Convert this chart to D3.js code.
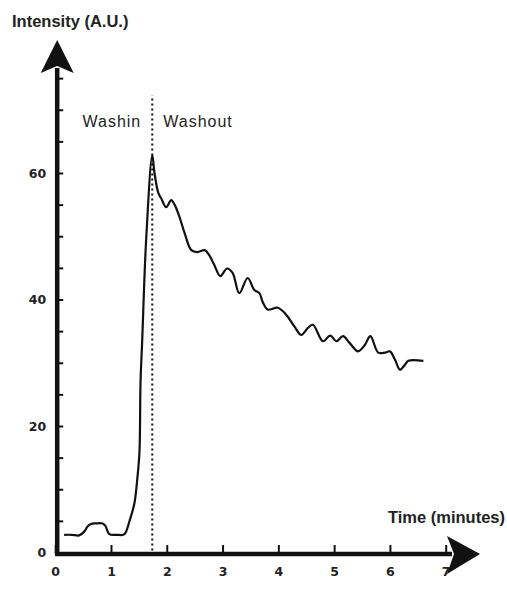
<!DOCTYPE html>
<html>
<head>
<meta charset="utf-8">
<script src="https://cdn.jsdelivr.net/npm/d3@7"></script>
<style>
  html, body { margin: 0; padding: 0; background: #fff; }
  svg { display: block; }
</style>
</head>
<body>
<svg id="chart" width="507" height="589"></svg>
<script>
// Time-intensity curve: contrast wash-in then wash-out
const timeMin = [0.16, 0.30, 0.43, 0.52, 0.58, 0.64, 0.72, 0.85, 0.90, 0.97, 1.10, 1.22, 1.26, 1.33, 1.42, 1.47, 1.51, 1.53, 1.56, 1.63, 1.74,
  1.78, 1.85, 1.90, 1.99, 2.08, 2.14, 2.23, 2.32, 2.44, 2.55, 2.68, 2.76, 2.85, 2.96, 3.08, 3.18, 3.30, 3.45, 3.57, 3.66,
  3.72, 3.81, 3.99, 4.14, 4.29, 4.41, 4.53, 4.62, 4.80, 4.93, 5.04, 5.16, 5.28, 5.43, 5.55, 5.65, 5.79, 5.91, 6.00, 6.09,
  6.18, 6.27, 6.33, 6.60];
const intensity = [2.8, 2.8, 2.7, 3.3, 4.1, 4.5, 4.6, 4.6, 4.2, 2.9, 2.8, 2.8, 3.1, 4.9, 7.8, 11.5, 15.8, 27.0, 33.6, 49.4, 62.8,
  60.0, 56.8, 56.0, 54.6, 55.7, 55.0, 53.0, 50.5, 47.8, 47.5, 47.8, 47.0, 45.5, 43.7, 44.9, 44.2, 41.0, 43.4, 41.5, 41.0,
  39.6, 38.4, 38.7, 37.6, 35.7, 34.4, 35.5, 36.0, 33.4, 34.3, 33.4, 34.2, 33.1, 31.8, 32.8, 34.2, 31.6, 31.6, 31.8, 30.5,
  28.9, 29.7, 30.3, 30.3];

const xTicks = [0, 1, 2, 3, 4, 5, 6, 7];
const yTicks = [0, 5, 10, 15, 20, 25, 30, 35, 40, 45, 50, 55, 60, 65, 70, 75];
const yLabelled = [0, 20, 40, 60];
const peakTime = 1.74;           // boundary between the two phases
const phaseLabels = ["Washin", "Washout"];
const xTitle = "Time (minutes)";
const yTitle = "Intensity (A.U.)";

const svg = d3.select("#chart");
const ink = "#111";

const x = d3.scaleLinear().domain([0, 7]).range([55.2, 445.7]);
const y = d3.scaleLinear().domain([0, 60]).range([552.5, 173]);

const tickFont = "bold 12.5px 'DejaVu Sans', sans-serif";

// Y axis ticks (pointing inward) with labels every 20
const yAxis = d3.axisLeft(y)
  .tickValues(yTicks)
  .tickSizeInner(-6)
  .tickSizeOuter(0)
  .tickPadding(11)
  .tickFormat(d => yLabelled.includes(d) ? d3.format("d")(d) : "");
const gy = svg.append("g").attr("transform", `translate(${x(0) + 2},0)`).call(yAxis);
gy.select(".domain").remove();
gy.selectAll(".tick line").attr("stroke", ink).attr("stroke-width", 2);
gy.selectAll(".tick text").style("font", tickFont).attr("fill", "#222");

// X axis ticks (pointing up) with labels below
const xAxis = d3.axisBottom(x)
  .tickValues(xTicks)
  .tickSizeInner(-9)
  .tickSizeOuter(0)
  .tickPadding(13)
  .tickFormat(d3.format("d"));
const gx = svg.append("g").attr("transform", `translate(0,${y(0) + 1.5})`).call(xAxis);
gx.select(".domain").remove();
gx.selectAll(".tick line").attr("stroke", ink).attr("stroke-width", 2);
gx.selectAll(".tick text").style("font", tickFont).attr("fill", "#222");

// Heavy axis lines with arrowheads
const ax0 = x(0) + 2, ay0 = y(0) + 1.5;
const yTip = 40, xTip = 480;
svg.append("line").attr("x1", ax0).attr("x2", ax0).attr("y1", ay0 + 2).attr("y2", yTip + 28)
  .attr("stroke", ink).attr("stroke-width", 4.5);
svg.append("line").attr("x1", ax0 - 2).attr("x2", xTip - 28).attr("y1", ay0).attr("y2", ay0)
  .attr("stroke", ink).attr("stroke-width", 4.5);
svg.append("path")
  .attr("d", `M${ax0},${yTip} L${ax0 + 16.5},${yTip + 33} L${ax0},${yTip + 26} L${ax0 - 16.5},${yTip + 33} Z`)
  .attr("fill", ink);
svg.append("path")
  .attr("d", `M${xTip},${ay0} L${xTip - 33},${ay0 + 20} L${xTip - 26},${ay0} L${xTip - 33},${ay0 - 18} Z`)
  .attr("fill", ink);

// Dotted separator at the peak
svg.append("line")
  .attr("x1", x(peakTime)).attr("x2", x(peakTime))
  .attr("y1", y(0.3)).attr("y2", y(72.3))
  .attr("stroke", ink).attr("stroke-width", 2)
  .attr("stroke-dasharray", "2,3");

// Intensity curve
const line = d3.line()
  .x((d, i) => x(timeMin[i]))
  .y(d => y(d))
  .curve(d3.curveCatmullRom.alpha(0.5));
svg.append("path")
  .datum(intensity)
  .attr("d", line)
  .attr("fill", "none")
  .attr("stroke", ink)
  .attr("stroke-width", 2.2)
  .attr("stroke-linejoin", "round");

// Phase labels
const phaseFont = "16px 'Liberation Sans', Arial, sans-serif";
svg.append("text").attr("x", x(peakTime) - 11).attr("y", 127)
  .attr("text-anchor", "end").style("font", phaseFont).style("letter-spacing", "1px")
  .attr("fill", "#222").text(phaseLabels[0]);
svg.append("text").attr("x", x(peakTime) + 11).attr("y", 127)
  .style("font", phaseFont).style("letter-spacing", "1px")
  .attr("fill", "#222").text(phaseLabels[1]);

// Axis titles
const titleFont = "bold 16.5px 'Liberation Sans', Arial, sans-serif";
svg.append("text").attr("x", 12).attr("y", 27).style("font", titleFont).attr("fill", "#222").text(yTitle);
svg.append("text").attr("x", 505).attr("y", 523).attr("text-anchor", "end")
  .style("font", titleFont).attr("fill", "#222").text(xTitle);
</script>
</body>
</html>
